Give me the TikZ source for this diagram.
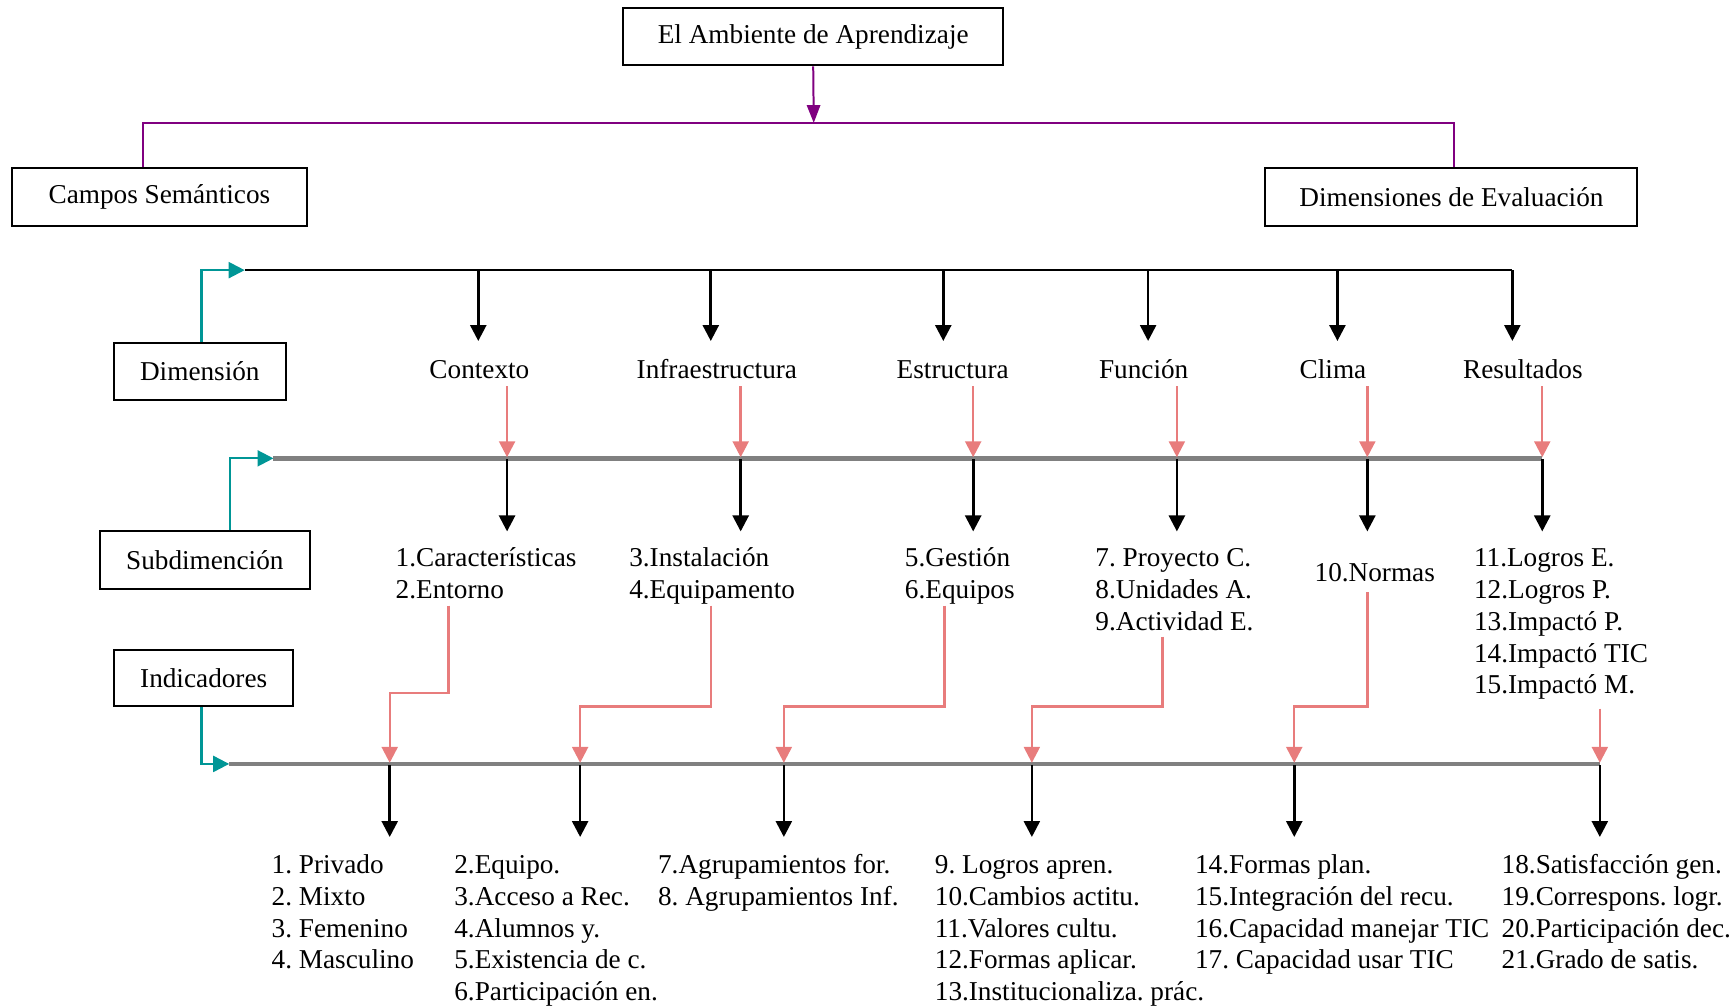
\documentclass[tikz,border=0pt]{standalone}
\usepackage{fontspec}
\setmainfont{Liberation Serif}
\usetikzlibrary{arrows.meta,calc}
\definecolor{purp}{RGB}{128,0,128}
\definecolor{tealc}{RGB}{0,150,150}
\definecolor{salmon}{RGB}{232,124,124}
\definecolor{rail}{RGB}{128,128,128}
\newcommand{\lines}[1]{\begin{tabular}[t]{@{}l@{}}#1\end{tabular}}
\frenchspacing
\begin{document}
\begin{tikzpicture}[x=0.5pt,y=-0.5pt,
  font=\fontsize{12.3}{14.35}\selectfont,
  box/.style={draw, line width=0.9pt, inner sep=0pt, minimum height=26pt},
  lbl/.style={inner sep=0pt, anchor=base},
  lst/.style={inner sep=0pt, anchor=base west},
  tip/.style={-{Triangle[length=7.2pt,width=7.2pt]}},
  down/.style={tip, line width=1.2pt, black},
  pink/.style={tip, line width=1.1pt, salmon},
  tealarr/.style={tip, line width=1pt, tealc},
  railline/.style={line width=2pt, rail},
]
\useasboundingbox (0,0) rectangle (1568,910);

% ---- boxes ----
\node[box, minimum width=171.5pt] (top) at (734.5,33) {El Ambiente de Aprendizaje};
\node[box, minimum width=133pt] (campos) at (144,178) {Campos Semánticos};
\node[box, minimum width=168pt] (dims) at (1311,178) {Dimensiones de Evaluación};
\node[box, minimum width=77.5pt, minimum height=25.5pt] (dimen) at (180.5,335.5) {Dimensión};
\node[box, minimum width=95pt] (subd) at (185,506) {Subdimención};
\node[box, minimum width=81pt, minimum height=25.5pt] (indic) at (184,612.5) {Indicadores};

% ---- top split ----
\coordinate (hub) at (735,111);
\coordinate (hubL) at (129,111);
\coordinate (hubR) at (1313,111);
\draw[purp, line width=0.9pt, -{Triangle[length=8pt,width=6pt]}] (top.south) -- (hub);
\draw[purp, line width=0.9pt] (hubL |- campos.north) -- (hubL) -- (hubR) -- (hubR |- dims.north);

% ---- dimension level ----
\coordinate (dstart) at (221,244);
\coordinate (dend) at (1366,244);
\draw[tealarr] (dimen.north -| 182,0) |- (dstart);
\draw[line width=1.2pt] (dstart) -- (dend);

\node[lbl] (d1) at (433,342) {Contexto};
\node[lbl] (d2) at (647.5,342) {Infraestructura};
\node[lbl] (d3) at (860.5,342) {Estructura};
\node[lbl] (d4) at (1033,342) {Función};
\node[lbl] (d5) at (1204,342) {Clima};
\node[lbl] (d6) at (1375.5,342) {Resultados};

\foreach \x in {432,642,852,1037,1208,1366}
  \draw[down] (\x,244) -- (\x,308);

% ---- subdimension level ----
\coordinate (sstart) at (247,414);
\coordinate (send) at (1393,414);
\draw[tealarr] ($(subd.north)+(23,0)$) |- (sstart);
\draw[railline] (sstart) -- (send);

\foreach \x in {458,669,879,1063,1235,1393} {
  \draw[pink] (\x,349) -- (\x,413);
  \draw[down] (\x,415) -- (\x,480);
}

\node[lst] (s1) at (357,512) {\lines{1.Características\\2.Entorno}};
\node[lst] (s2) at (568,512) {\lines{3.Instalación\\4.Equipamento}};
\node[lst] (s3) at (817,512) {\lines{5.Gestión\\6.Equipos}};
\node[lst] (s4) at (989,512) {\lines{7. Proyecto C.\\8.Unidades A.\\9.Actividad E.}};
\node[lst] (s5) at (1187,525) {10.Normas};
\node[lst] (s6) at (1331,512) {\lines{11.Logros E.\\12.Logros P.\\13.Impactó P.\\14.Impactó TIC\\15.Impactó M.}};

% ---- indicator level ----
\coordinate (istart) at (207,690);
\coordinate (iend) at (1445,690);
\draw[tealarr] (indic.south -| 182,0) |- (istart);
\draw[railline] (istart) -- (iend);

\draw[pink] (405,547) |- (352,626) -- (352,689);
\draw[pink] (642,547) |- (524,638) -- (524,689);
\draw[pink] (853,547) |- (708,638) -- (708,689);
\draw[pink] (1050,575) |- (932,638) -- (932,689);
\draw[pink] (1235,535) |- (1169,638) -- (1169,689);
\draw[pink] (1445,640) -- (1445,689);

\foreach \x in {352,524,708,932,1169,1445}
  \draw[down] (\x,691) -- (\x,756);

\node[lst] (i1) at (245,789) {\lines{1. Privado\\2. Mixto\\3. Femenino\\4. Masculino}};
\node[lst] (i2) at (410,789) {\lines{2.Equipo.\\3.Acceso a Rec.\\4.Alumnos y.\\5.Existencia de c.\\6.Participación en.}};
\node[lst] (i3) at (594,789) {\lines{7.Agrupamientos for.\\8. Agrupamientos Inf.}};
\node[lst] (i4) at (844,789) {\lines{9. Logros apren.\\10.Cambios actitu.\\11.Valores cultu.\\12.Formas aplicar.\\13.Institucionaliza. prác.}};
\node[lst] (i5) at (1079,789) {\lines{14.Formas plan.\\15.Integración del recu.\\16.Capacidad manejar TIC\\17. Capacidad usar TIC}};
\node[lst] (i6) at (1356,789) {\lines{18.Satisfacción gen.\\19.Correspons. logr.\\20.Participación dec.\\21.Grado de satis.}};
\end{tikzpicture}
\end{document}
